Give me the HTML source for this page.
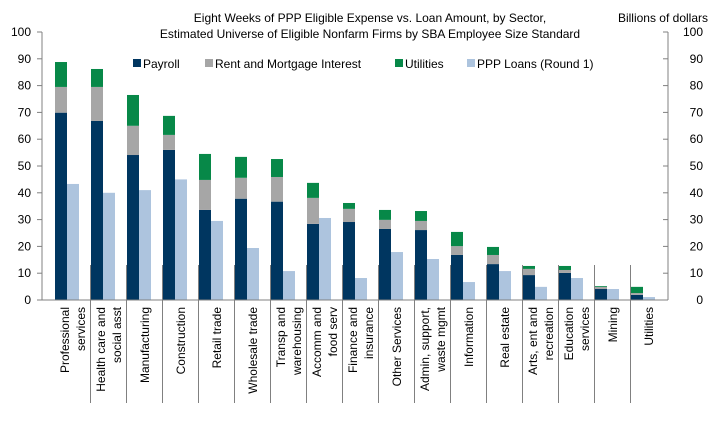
<!DOCTYPE html>
<html><head><meta charset="utf-8"><style>
body{margin:0;background:#fff}
svg{display:block;font-family:"Liberation Sans",Arial,sans-serif}
</style></head><body>
<svg id="chart" width="711" height="422">
<text x="370" y="22" text-anchor="middle" font-size="12">Eight Weeks of PPP Eligible Expense vs. Loan Amount, by Sector,</text>
<text x="370" y="38" text-anchor="middle" font-size="12">Estimated Universe  of Eligible Nonfarm  Firms by SBA Employee Size Standard</text>
<text x="708" y="22" text-anchor="end" font-size="12">Billions of dollars</text>
<g id="grid"></g><g id="bars"></g><g id="axes"></g><g id="legend"></g><g id="labels"></g>
</svg>
<script>
const categories=[["Professional","services"],["Health care and","social asst"],["Manufacturing"],["Construction"],["Retail trade"],["Wholesale trade"],["Transp and","warehousing"],["Accomm and","food serv"],["Finance and","insurance"],["Other Services"],["Admin, support,","waste mgmt"],["Information"],["Real estate"],["Arts, ent and","recreation"],["Education","services"],["Mining"],["Utilities"]];
const payroll=[69.9,66.8,54.1,56,33.6,37.8,36.7,28.4,29.1,26.5,26.1,16.8,13.4,9.3,10.1,4.1,1.9];
const rent=[9.6,12.7,10.9,5.6,11.2,7.8,9.2,9.7,4.9,3.4,3.4,3.3,3.4,2.3,1.1,0.8,0.7];
const utilities=[9.3,6.7,11.5,7.1,9.7,7.8,6.7,5.6,2.2,3.7,3.7,5.3,3.0,1.1,1.5,0.3,2.3];
const loans=[43.3,40,41,45,29.5,19.4,10.8,30.6,8.2,17.9,15.3,6.7,10.8,4.9,8.2,4.1,1.1];
const yTicks=[0,10,20,30,40,50,60,70,80,90,100];
const NS="http://www.w3.org/2000/svg";
const y0=300,yTop=32,xL=42,xR=668,band=36,x0=55,bw=12;
const Y=v=>y0-(v/100)*(y0-yTop);
const X=i=>x0+band*i;
function mk(parent,tag,attrs){const e=document.createElementNS(NS,tag);for(const k in attrs)e.setAttribute(k,attrs[k]);document.getElementById(parent).appendChild(e);return e;}
// axes
let e=mk('axes','line',{x1:xL,y1:yTop,x2:xL,y2:y0,stroke:'#808080'});


e=mk('axes','line',{x1:xR,y1:yTop,x2:xR,y2:y0,stroke:'#808080'});


e=mk('axes','line',{x1:xL,y1:y0,x2:xR,y2:y0,stroke:'#808080'});


yTicks.forEach(t=>{
 mk('axes','line',{x1:xL-5,y1:Y(t),x2:xL,y2:Y(t),stroke:'#808080'});
 mk('axes','line',{x1:xR-5,y1:Y(t),x2:xR,y2:Y(t),stroke:'#808080'});
 let a=mk('axes','text',{x:31,y:Y(t)+4,'text-anchor':'end','font-size':12});a.textContent=t;
 
 
 let b=mk('axes','text',{x:703,y:Y(t)+4,'text-anchor':'end','font-size':12});b.textContent=t;
 
 
});
for(let i=1;i<categories.length;i++){
 const d=mk('grid','line',{x1:X(i)-0.5,y1:265,x2:X(i)-0.5,y2:403,stroke:'#808080'});
 
 
}
categories.forEach((c,i)=>{
 const x=X(i);
 let base=0;
 [[payroll,'#003660','payroll'],[rent,'#a6a6a6','rent'],[utilities,'#078848','utilities']].forEach(([arr,col,n])=>{
  const r=mk('bars','rect',{x:x,y:Y(base+arr[i]),width:bw,height:Y(base)-Y(base+arr[i]),fill:col});
  
  
  base+=arr[i];
 });
 const l=mk('bars','rect',{x:x+bw,y:Y(loans[i]),width:bw,height:Y(0)-Y(loans[i]),fill:'#adc4de'});
 
 
 const cx=x+18, n=c.length;
 c.forEach((line,j)=>{
  const lx=cx+(j-(n-1)/2)*16+4;
  const t=mk('labels','text',{x:0,y:0,'font-size':12,'text-anchor':'end',transform:`translate(${lx},307) rotate(-90)`});
  t.textContent=line;
  
  
 });
});
const leg=[['Payroll','#003660',133],['Rent and Mortgage Interest','#a6a6a6',205],['Utilities','#078848',395],['PPP Loans (Round 1)','#adc4de',467]];
leg.forEach(([n,c,x])=>{
 const s=mk('legend','rect',{x:x,y:59,width:8,height:8,fill:c});
 
 
 const t=mk('legend','text',{x:x+10,y:68,'font-size':12});t.textContent=n;
 
 
});
</script>
</body></html>
